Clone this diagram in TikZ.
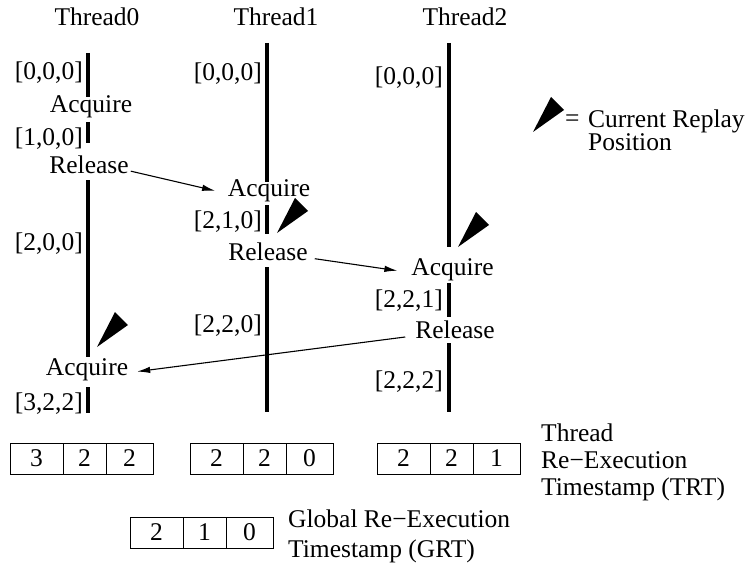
\documentclass[tikz,border=0pt]{standalone}
\usepackage{fontspec}
\setmainfont{Liberation Serif}
\usetikzlibrary{arrows.meta,positioning}

\begin{document}
\begin{tikzpicture}[
    x=1pt, y=-1pt,
    every node/.style={font=\fontsize{25.5}{28}\selectfont, inner sep=0pt},
    event/.style={anchor=base},
    stamp/.style={anchor=base east},
    thread/.style={line width=4pt},
    msg/.style={line width=1.1pt, -{Latex[length=13pt,width=6.5pt]}},
    cell/.style={draw, line width=0.9pt, minimum height=31pt, outer sep=0pt},
]
    \useasboundingbox (0,0) rectangle (749,567);

    % thread names
    \node[event] (name0) at (97,26) {Thread0};
    \node[event] (name1) at (276,26) {Thread1};
    \node[event] (name2) at (465,26) {Thread2};

    % time lines, broken by the events
    \foreach \x/\ya/\yb in {88/53/97, 88/122/143, 88/180/357, 88/387/413,
                            267/43/182, 267/205/234, 267/267/412,
                            449/43/247, 449/283/317, 449/343/412}
        \draw[thread] (\x,\ya) -- (\x,\yb);

    % events
    \node[event] (acq0a) at (91,113) {Acquire};
    \node[event] (rel0) at (89,173) {Release};
    \node[event] (acq0b) at (87,375) {Acquire};
    \node[event] (acq1) at (269,196) {Acquire};
    \node[event] (rel1) at (268,260) {Release};
    \node[event] (acq2) at (452.5,275) {Acquire};
    \node[event] (rel2) at (455,338) {Release};

    % vector timestamps
    \node[stamp] (ts0a) at (83,80) {[0,0,0]};
    \node[stamp] (ts0b) at (83,145) {[1,0,0]};
    \node[stamp] (ts0c) at (83,250) {[2,0,0]};
    \node[stamp] (ts0d) at (83,410) {[3,2,2]};
    \node[stamp] (ts1a) at (262,81) {[0,0,0]};
    \node[stamp] (ts1b) at (262,228) {[2,1,0]};
    \node[stamp] (ts1c) at (262,332) {[2,2,0]};
    \node[stamp] (ts2a) at (443,85) {[0,0,0]};
    \node[stamp] (ts2b) at (443,307) {[2,2,1]};
    \node[stamp] (ts2c) at (443,388) {[2,2,2]};

    % release -> acquire
    \draw[msg, shorten <=2pt, shorten >=13pt] (rel0.mid east) -- (acq1.mid west);
    \draw[msg, shorten <=7pt, shorten >=14pt] (rel1.mid east) -- (acq2.mid west);
    \draw[msg, shorten <=10pt, shorten >=9pt] (rel2.mid west) -- (acq0b.mid east);

    % current replay positions (and the one in the legend)
    \foreach \x/\y in {97/347, 277/233, 458/247, 533/132}
        \fill (\x,\y) -- ++(18,-35) -- ++(13,13) -- cycle;

    \node[anchor=base west] (eq) at (565,127) {=};
    \node[anchor=base west, align=left] (legend) at (588,150) {Current Replay\\[-5pt]Position};

    % thread re-execution timestamps
    \node[cell, minimum width=53pt] (trt0a) at (36.5,458.5) {3};
    \node[cell, minimum width=43pt, right=0pt of trt0a] (trt0b) {2};
    \node[cell, minimum width=47pt, right=0pt of trt0b] (trt0c) {2};

    \node[cell, minimum width=53pt] (trt1a) at (216.5,458.5) {2};
    \node[cell, minimum width=43pt, right=0pt of trt1a] (trt1b) {2};
    \node[cell, minimum width=47pt, right=0pt of trt1b] (trt1c) {0};

    \node[cell, minimum width=53pt] (trt2a) at (403.5,458.5) {2};
    \node[cell, minimum width=43pt, right=0pt of trt2a] (trt2b) {2};
    \node[cell, minimum width=47pt, right=0pt of trt2b] (trt2c) {1};

    \node[anchor=base west, align=left] (trtlabel) at (541,495) {Thread\\[-1.3pt]Re−Execution\\[-1.3pt]Timestamp (TRT)};

    % global re-execution timestamp
    \node[cell, minimum width=53pt] (grta) at (156.5,532.5) {2};
    \node[cell, minimum width=43pt, right=0pt of grta] (grtb) {1};
    \node[cell, minimum width=47pt, right=0pt of grtb] (grtc) {0};

    \node[anchor=base west, align=left] (grtlabel) at (288,557) {Global Re−Execution\\[1.3pt]Timestamp (GRT)};

\end{tikzpicture}
\end{document}
